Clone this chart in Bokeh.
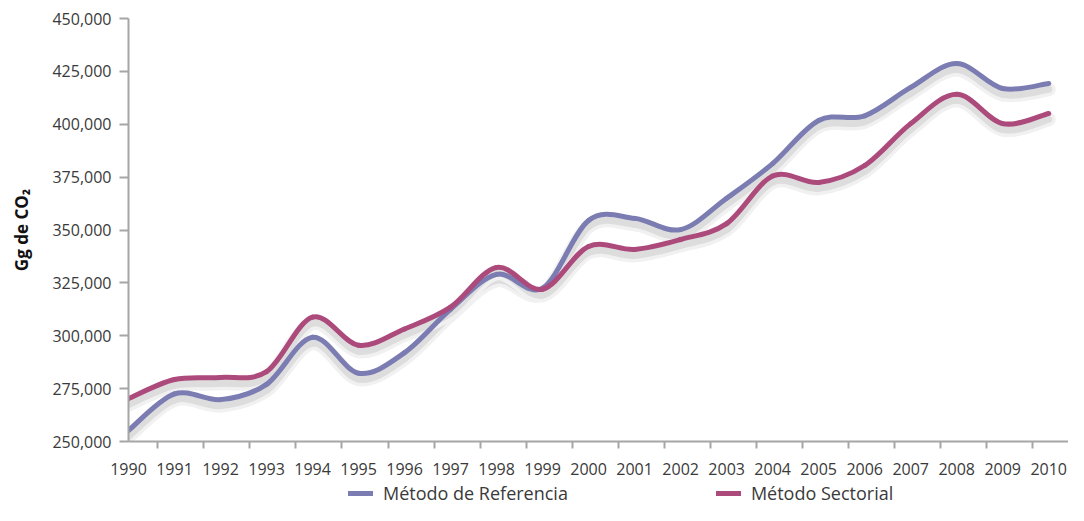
from bokeh.plotting import figure
from bokeh.layouts import column
from bokeh.models import Range1d, FixedTicker, Legend, LegendItem, NumeralTickFormatter
from bokeh.embed import file_html
from bokeh.resources import INLINE

years = list(range(1990, 2011))
referencia = [255200, 272500, 269800, 277000, 299300, 282300, 292000, 312500, 329000, 322500,
              354500, 355500, 350200, 365000, 381400, 401800, 404000, 417400, 428700, 416900, 419300]
sectorial = [270300, 279300, 280300, 283000, 308800, 295500, 303200, 313500, 332300, 322000,
             342200, 340800, 345500, 353000, 375500, 372500, 380500, 400300, 414200, 400300, 405100]
y_ticks = [250000, 275000, 300000, 325000, 350000, 375000, 400000, 425000, 450000]
series_names = ["Método de Referencia", "Método Sectorial"]
colors = ["#7b7cb2", "#ac4a7c"]

FONT = "Open Sans"
AXIS_COLOR = "#a6a6a6"
TEXT_COLOR = "#3a3a3a"


def bezier_segments(xs, ys):
    """Catmull-Rom style control points for a smoothed line through the data."""
    n = len(xs)
    out = dict(x0=[], y0=[], x1=[], y1=[], cx0=[], cy0=[], cx1=[], cy1=[])
    for i in range(n - 1):
        xm, ym = xs[max(i - 1, 0)], ys[max(i - 1, 0)]
        xa, ya = xs[i], ys[i]
        xb, yb = xs[i + 1], ys[i + 1]
        xp, yp = xs[min(i + 2, n - 1)], ys[min(i + 2, n - 1)]
        out["x0"].append(xa); out["y0"].append(ya)
        out["x1"].append(xb); out["y1"].append(yb)
        out["cx0"].append(xa + (xb - xm) / 6.0); out["cy0"].append(ya + (yb - ym) / 6.0)
        out["cx1"].append(xb - (xp - xa) / 6.0); out["cy1"].append(yb - (yp - ya) / 6.0)
    return out


p = figure(width=1068, height=480, output_backend="svg", toolbar_location=None,
           x_range=Range1d(1990, 2010.43), y_range=Range1d(250000, 450000),
           min_border_left=128, min_border_right=0, min_border_top=18, min_border_bottom=39)
p.outline_line_color = None
p.xgrid.visible = False
p.ygrid.visible = False
p.background_fill_color = "white"
p.border_fill_color = "white"

# soft drop shadows under the lines
SHADOW_DY = -2800
for vals in (referencia, sectorial):
    seg = bezier_segments(years, [v + SHADOW_DY for v in vals])
    p.bezier(source=seg, x0="x0", y0="y0", x1="x1", y1="y1", cx0="cx0", cy0="cy0",
             cx1="cx1", cy1="cy1", line_color="#f1f1f1", line_width=14, line_cap="round")
    p.bezier(source=seg, x0="x0", y0="y0", x1="x1", y1="y1", cx0="cx0", cy0="cy0",
             cx1="cx1", cy1="cy1", line_color="#dddddd", line_width=7, line_cap="round")

for vals, col in zip((referencia, sectorial), colors):
    seg = bezier_segments(years, vals)
    p.bezier(source=seg, x0="x0", y0="y0", x1="x1", y1="y1", cx0="cx0", cy0="cy0",
             cx1="cx1", cy1="cy1", line_color=col, line_width=5, line_cap="round")

# x axis
xa = p.xaxis[0]
xa.ticker = FixedTicker(ticks=years, minor_ticks=[y + 0.64 for y in years])
xa.major_tick_out = 0
xa.major_tick_in = 0
xa.minor_tick_in = 0
xa.minor_tick_out = 7
xa.minor_tick_line_color = AXIS_COLOR
xa.minor_tick_line_width = 2
xa.axis_line_color = AXIS_COLOR
xa.axis_line_width = 2
xa.major_label_text_font = FONT
xa.major_label_text_font_size = "16px"
xa.major_label_text_color = TEXT_COLOR
xa.major_label_standoff = 14

# y axis
ya = p.yaxis[0]
ya.ticker = FixedTicker(ticks=y_ticks)
ya.minor_tick_out = 0
ya.minor_tick_in = 0
ya.major_tick_in = 0
ya.major_tick_out = 9
ya.major_tick_line_color = AXIS_COLOR
ya.major_tick_line_width = 2
ya.axis_line_color = AXIS_COLOR
ya.axis_line_width = 2
ya.formatter = NumeralTickFormatter(format="0,0")
ya.major_label_text_font = FONT
ya.major_label_text_font_size = "16px"
ya.major_label_text_color = TEXT_COLOR
ya.major_label_standoff = 8
ya.axis_label = "Gg de CO₂"
ya.axis_label_text_font = FONT
ya.axis_label_text_font_style = "bold"
ya.axis_label_text_font_size = "17px"
ya.axis_label_text_color = "#111111"
ya.axis_label_standoff = 16

# legend strip underneath the chart
leg = figure(width=1068, height=25, output_backend="svg", toolbar_location=None,
             x_axis_type=None, y_axis_type=None,
             x_range=Range1d(0, 1), y_range=Range1d(0, 1),
             min_border=0, min_border_left=0, min_border_right=0,
             min_border_top=0, min_border_bottom=0)
leg.outline_line_color = None
leg.xgrid.visible = False
leg.ygrid.visible = False
items = []
for name, vals, col in zip(series_names, (referencia, sectorial), colors):
    # proxy renderer: same series, lies outside this strip's visible range
    proxy = leg.line(x=years, y=vals, line_color=col, line_width=5, line_cap="round")
    items.append(LegendItem(label=name, renderers=[proxy]))

legend = Legend(items=items, location=(220, 0), orientation="horizontal",
                glyph_width=25, glyph_height=22, label_standoff=10, spacing=148,
                padding=0, margin=0, border_line_alpha=0, background_fill_alpha=0,
                label_text_font=FONT, label_text_font_size="18px",
                label_text_color=TEXT_COLOR)
leg.add_layout(legend, "center")

layout = column(p, leg, spacing=0)
open("out.html", "w").write(file_html(layout, INLINE))
